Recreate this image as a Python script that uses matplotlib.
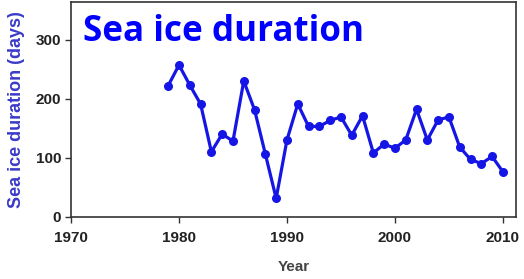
import matplotlib
matplotlib.use("Agg")
import matplotlib.pyplot as plt

years = list(range(1979, 2011))
duration = [222, 257, 223, 191, 110, 140, 128, 230, 181, 106, 31, 130, 191, 153,
            153, 163, 169, 138, 171, 108, 123, 116, 130, 182, 130, 164, 169, 118,
            97, 90, 102, 76]
xticks = [1970, 1980, 1990, 2000, 2010]
yticks = [0, 100, 200, 300]

fig = plt.figure(figsize=(5.24, 2.79), dpi=100)
ax = fig.add_axes([0.1355, 0.2233, 0.849, 0.770])
ax.plot(years, duration, color="#1515e6", lw=2.3, marker="o", ms=6.5,
        markeredgewidth=0)
ax.set_xlim(1970, 2011.2)
ax.set_ylim(0, 364)
ax.set_xticks(xticks)
ax.set_yticks(yticks)
for lab in ax.get_xticklabels() + ax.get_yticklabels():
    lab.set_fontweight("bold")
    lab.set_fontfamily("Liberation Sans")
    lab.set_color("#222222")
ax.tick_params(labelsize=11, length=4, width=1, color="#333333", pad=3)
ax.tick_params(axis="x", pad=6)
for s in ax.spines.values():
    s.set_color("#333333")
    s.set_linewidth(1.2)
ax.set_xlabel("Year", fontsize=11, fontweight="bold", color="#444444",
              family="Liberation Sans", labelpad=11)
ax.set_ylabel("Sea ice duration (days)", fontsize=13, fontweight="bold",
              color="#3a3ac8", family="Liberation Sans", labelpad=8)
ax.text(0.026, 0.945, "Sea ice duration", transform=ax.transAxes, fontsize=25.2,
        fontweight="bold", color="#0000ff", family="Open Sans", va="top", ha="left")
fig.savefig("out.png", dpi=100)
